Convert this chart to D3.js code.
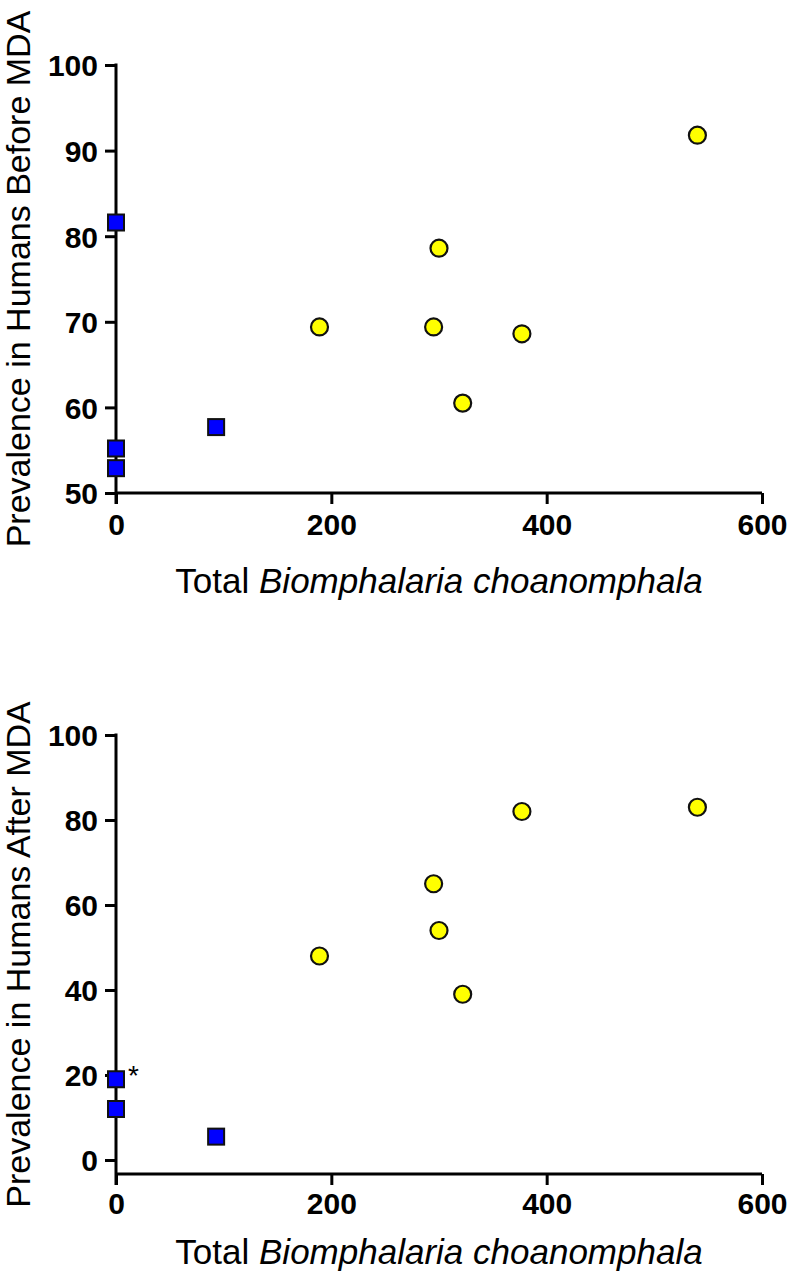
<!DOCTYPE html>
<html>
<head>
<meta charset="utf-8">
<script src="https://cdn.jsdelivr.net/npm/d3@7"></script>
<style>
  html, body { margin: 0; padding: 0; background: #fff; }
  svg { display: block; font-family: "Liberation Sans", Arial, sans-serif; }
</style>
</head>
<body>
<svg id="chart" width="789" height="1275"></svg>
<script>
// ---- Data ----
// Panel A: Prevalence before MDA
const beforeSquaresX = [0, 0, 0, 93];
const beforeSquaresY = [81.6, 55.2, 52.9, 57.7];
const beforeCirclesX = [189, 295, 300, 322, 377, 540];
const beforeCirclesY = [69.4, 69.4, 78.6, 60.5, 68.6, 91.8];
// Panel B: Prevalence after MDA
const afterSquaresX = [0, 0, 93];
const afterSquaresY = [19, 12, 5.5];
const afterCirclesX = [189, 295, 300, 322, 377, 540];
const afterCirclesY = [48, 65, 54, 39, 82, 83];
// Ticks
const xTicks = [0, 200, 400, 600];
const yTicksBefore = [50, 60, 70, 80, 90, 100];
const yTicksAfter = [0, 20, 40, 60, 80, 100];
const yTitleBefore = "Prevalence in Humans Before MDA";
const yTitleAfter = "Prevalence in Humans After MDA";

const svg = d3.select("#chart");

function panel(cfg) {
  const g = svg.append("g");
  const x = d3.scaleLinear().domain([0, 600]).range([116, 762]);
  const y = d3.scaleLinear().domain(cfg.yDomain).range(cfg.yRange);
  const axisY = cfg.axisY;

  const xAxis = d3.axisBottom(x).tickValues(xTicks).tickSize(11).tickPadding(cfg.xPad).tickFormat(d3.format("d"));
  const gx = g.append("g").attr("transform", `translate(0,${axisY})`).call(xAxis);
  const yAxis = d3.axisLeft(y).tickValues(cfg.yTicks).tickSize(11).tickPadding(7).tickFormat(d3.format("d"));
  const gy = g.append("g").attr("transform", `translate(116,0)`).call(yAxis);

  [gx, gy].forEach(a => {
    a.select(".domain").remove();
    a.selectAll(".tick line").attr("stroke", "#000").attr("stroke-width", 3);
    a.selectAll(".tick text").attr("fill", "#000").style("font-size", "30px").style("font-weight", "bold");
  });
  gx.selectAll(".tick text").attr("dy", "0.71em");
  gy.selectAll(".tick text").attr("dy", "0.36em");

  g.append("line").attr("x1", 116).attr("x2", 762).attr("y1", axisY).attr("y2", axisY)
    .attr("stroke", "#000").attr("stroke-width", 3);
  g.append("line").attr("x1", 116).attr("x2", 116).attr("y1", y(cfg.yDomain[1]) - 1.5).attr("y2", axisY + 11)
    .attr("stroke", "#000").attr("stroke-width", 3);

  const yc = (y(cfg.yDomain[1]) + axisY) / 2;
  g.append("text")
    .attr("transform", `translate(30,${yc}) rotate(-90)`)
    .attr("text-anchor", "middle")
    .style("font-size", "34px")
    .text(cfg.yTitle);

  const t = g.append("text")
    .attr("x", 439).attr("y", axisY + cfg.titleOff)
    .attr("text-anchor", "middle")
    .style("font-size", "35px");
  t.append("tspan").text("Total ");
  t.append("tspan").style("font-style", "italic").text("Biomphalaria choanomphala");

  g.selectAll("circle.pt").data(cfg.cx.map((d, i) => [d, cfg.cy[i]])).enter()
    .append("circle").attr("class", "pt")
    .attr("cx", d => x(d[0])).attr("cy", d => y(d[1])).attr("r", 8.5)
    .attr("fill", "#ffff00").attr("stroke", "#111").attr("stroke-width", 2.2);
  const s = 16;
  g.selectAll("rect.pt").data(cfg.sx.map((d, i) => [d, cfg.sy[i]])).enter()
    .append("rect").attr("class", "pt")
    .attr("x", d => x(d[0]) - s / 2).attr("y", d => y(d[1]) - s / 2)
    .attr("width", s).attr("height", s)
    .attr("fill", "#0000ff").attr("stroke", "#111").attr("stroke-width", 2);
  return { x, y, g };
}

panel({
  yDomain: [50, 100], yRange: [493, 65], axisY: 493, yTicks: yTicksBefore, xPad: 10, titleOff: 100,
  yTitle: yTitleBefore, cx: beforeCirclesX, cy: beforeCirclesY, sx: beforeSquaresX, sy: beforeSquaresY
});
const p2 = panel({
  yDomain: [0, 100], yRange: [1160, 735], axisY: 1174, yTicks: yTicksAfter, xPad: 8, titleOff: 90,
  yTitle: yTitleAfter, cx: afterCirclesX, cy: afterCirclesY, sx: afterSquaresX, sy: afterSquaresY
});
p2.g.append("text")
  .attr("x", p2.x(afterSquaresX[0]) + 12).attr("y", p2.y(afterSquaresY[0]) + 6)
  .style("font-size", "28px")
  .text("*");
</script>
</body>
</html>
